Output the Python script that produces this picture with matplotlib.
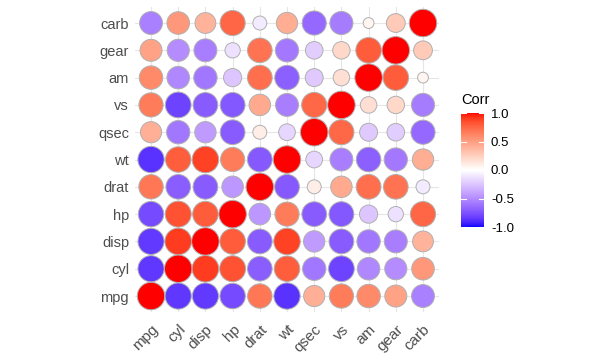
import numpy as np
import matplotlib
matplotlib.use("Agg")
from matplotlib import pyplot as plt
from matplotlib.colors import ListedColormap

plt.rcParams['font.family'] = ['Liberation Sans', 'DejaVu Sans']

# mtcars correlation matrix
variables = ['mpg', 'cyl', 'disp', 'hp', 'drat', 'wt', 'qsec', 'vs', 'am', 'gear', 'carb']
mpg = [1.000, -0.852, -0.848, -0.776, 0.681, -0.868, 0.419, 0.664, 0.600, 0.480, -0.551]
cyl = [-0.852, 1.000, 0.902, 0.832, -0.700, 0.782, -0.591, -0.811, -0.523, -0.493, 0.527]
disp = [-0.848, 0.902, 1.000, 0.791, -0.710, 0.888, -0.434, -0.710, -0.591, -0.556, 0.395]
hp = [-0.776, 0.832, 0.791, 1.000, -0.449, 0.659, -0.708, -0.723, -0.243, -0.126, 0.750]
drat = [0.681, -0.700, -0.710, -0.449, 1.000, -0.712, 0.091, 0.440, 0.713, 0.700, -0.091]
wt = [-0.868, 0.782, 0.888, 0.659, -0.712, 1.000, -0.175, -0.555, -0.692, -0.583, 0.428]
qsec = [0.419, -0.591, -0.434, -0.708, 0.091, -0.175, 1.000, 0.745, -0.230, -0.213, -0.656]
vs = [0.664, -0.811, -0.710, -0.723, 0.440, -0.555, 0.745, 1.000, 0.168, 0.206, -0.570]
am = [0.600, -0.523, -0.591, -0.243, 0.713, -0.692, -0.230, 0.168, 1.000, 0.794, 0.058]
gear = [0.480, -0.493, -0.556, -0.126, 0.700, -0.583, -0.213, 0.206, 0.794, 1.000, 0.274]
carb = [-0.551, 0.527, 0.395, 0.750, -0.091, 0.428, -0.656, -0.570, 0.058, 0.274, 1.000]
corr = np.array([mpg, cyl, disp, hp, drat, wt, qsec, vs, am, gear, carb])
cbar_ticks = [-1.0, -0.5, 0.0, 0.5, 1.0]


# blue - white - red gradient interpolated in CIELAB (like ggplot2)
def srgb_to_lab(rgb):
    rgb = np.asarray(rgb, float)
    lin = np.where(rgb <= 0.04045, rgb / 12.92, ((rgb + 0.055) / 1.055) ** 2.4)
    M = np.array([[0.4124, 0.3576, 0.1805], [0.2126, 0.7152, 0.0722], [0.0193, 0.1192, 0.9505]])
    xyz = lin @ M.T / np.array([0.95047, 1.0, 1.08883])
    f = np.where(xyz > 0.008856, np.cbrt(xyz), 7.787 * xyz + 16 / 116)
    return np.stack([116 * f[..., 1] - 16, 500 * (f[..., 0] - f[..., 1]), 200 * (f[..., 1] - f[..., 2])], -1)


def lab_to_srgb(lab):
    L, a, b = lab[..., 0], lab[..., 1], lab[..., 2]
    fy = (L + 16) / 116
    fx = fy + a / 500
    fz = fy - b / 200
    f = np.stack([fx, fy, fz], -1)
    xyz = np.where(f ** 3 > 0.008856, f ** 3, (f - 16 / 116) / 7.787) * np.array([0.95047, 1.0, 1.08883])
    Minv = np.linalg.inv(np.array([[0.4124, 0.3576, 0.1805], [0.2126, 0.7152, 0.0722], [0.0193, 0.1192, 0.9505]]))
    lin = np.clip(xyz @ Minv.T, 0, 1)
    return np.clip(np.where(lin <= 0.0031308, 12.92 * lin, 1.055 * lin ** (1 / 2.4) - 0.055), 0, 1)


lab_blue, lab_white, lab_red = srgb_to_lab([[0, 0, 1], [1, 1, 1], [1, 0, 0]])
t = np.linspace(0, 1, 128)[:, None]
lower = lab_blue * (1 - t) + lab_white * t
upper = lab_white * (1 - t) + lab_red * t
cmap = ListedColormap(lab_to_srgb(np.vstack([lower, upper])))

fig = plt.figure(figsize=(6.14, 3.61), dpi=100)
ax = fig.add_axes([0.2194, 0.1346, 0.4961, 0.847])

n = len(variables)
xx, yy = np.meshgrid(np.arange(n), np.arange(n))
vals = corr.ravel()
absv = np.abs(vals)
# ggplot scale_size(range=c(4,10)) maps to area
frac = (absv - absv.min()) / (absv.max() - absv.min())
diam = 7.8 + (19.8 - 7.8) * np.sqrt(frac)

for v in range(n):
    ax.axhline(v, color='#e6e6e6', lw=0.8, zorder=0)
    ax.axvline(v, color='#e6e6e6', lw=0.8, zorder=0)

sc = ax.scatter(xx.ravel(), yy.ravel(), s=diam ** 2, c=vals, cmap=cmap, vmin=-1, vmax=1,
                edgecolors='#b0b0b0', linewidths=0.7, zorder=2)

ax.set_xlim(-0.6, n - 0.4)
ax.set_ylim(-0.6, n - 0.4)
ax.set_xticks(range(n))
ax.set_yticks(range(n))
ax.set_xticklabels(variables, rotation=45, ha='right', va='top', rotation_mode='anchor')
ax.set_yticklabels(variables)
ax.tick_params(length=0, labelsize=10.5, labelcolor='#4d4d4d', pad=4)
ax.tick_params(axis='x', labelsize=11, pad=7)
for s in ax.spines.values():
    s.set_visible(False)

cax = fig.add_axes([461 / 614, 1 - 227 / 361, 23 / 614, 114 / 361])
cb = fig.colorbar(sc, cax=cax, ticks=cbar_ticks)
cb.outline.set_visible(False)
cb.ax.set_yticklabels(['-1.0', '-0.5', '0.0', '0.5', '1.0'])
cb.ax.tick_params(length=0, labelsize=9.5, labelcolor='black', pad=5)
for tv in cbar_ticks:
    cax.plot([0, 0.2], [tv, tv], color='white', lw=0.8, transform=cax.get_yaxis_transform())
    cax.plot([0.8, 1], [tv, tv], color='white', lw=0.8, transform=cax.get_yaxis_transform())
fig.text(461 / 614, 1 - 100 / 361, 'Corr', fontsize=10.5, ha='left', va='center')

fig.savefig('out.png', dpi=100)
